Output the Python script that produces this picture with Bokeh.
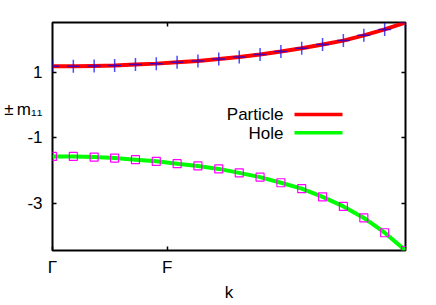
from bokeh.plotting import figure
from bokeh.models import (Range1d, FixedTicker, LinearAxis, Label, BoxAnnotation,
                          ColumnDataSource)
from bokeh.embed import file_html
from bokeh.resources import INLINE

# ---- data ----
k = [0.0, 0.059, 0.118, 0.176, 0.235, 0.294, 0.353, 0.412, 0.471,
     0.529, 0.588, 0.647, 0.706, 0.765, 0.824, 0.882, 0.941, 1.0]
particle = [1.18, 1.18, 1.19, 1.20, 1.23, 1.26, 1.30, 1.34, 1.40,
            1.46, 1.54, 1.63, 1.73, 1.84, 1.96, 2.12, 2.30, 2.51]
hole = [-1.56, -1.56, -1.58, -1.61, -1.66, -1.71, -1.78, -1.85, -1.94,
        -2.06, -2.19, -2.36, -2.54, -2.79, -3.08, -3.43, -3.88, -4.42]
x_ticks = [0.0, 0.325]
x_tick_labels = ["\u0393", "F"]
y_ticks = [1, -1, -3]
y_tick_labels = ["1", "-1", "-3"]
y_title = "\u00b1\u2009m\u2081\u2081"
y_title_pos = -0.12
x_title = "k"
legend_labels = ["Particle", "Hole"]

FONT = "Liberation Sans"

src = ColumnDataSource(dict(k=k, particle=particle, hole=hole))

p = figure(width=436, height=305, output_backend="svg", toolbar_location=None,
           x_range=Range1d(0, 1), y_range=Range1d(-4.42, 2.51),
           min_border_left=52, min_border_right=31, min_border_top=22,
           min_border_bottom=55)
p.grid.visible = False
p.outline_line_color = "black"
p.outline_line_width = 2
p.background_fill_color = "white"
p.border_fill_color = "white"


def style_axis(ax, show_labels):
    ax.axis_line_color = None
    ax.major_tick_in = 4
    ax.major_tick_out = 0
    ax.major_tick_line_color = "black"
    ax.major_tick_line_width = 1.5
    ax.minor_tick_line_color = None
    if not show_labels:
        ax.major_label_overrides = {t: "" for t in ax.ticker.ticks}
        ax.major_label_standoff = 0


# bottom axis: ticks, tick labels and title
xa = p.xaxis[0]
xa.ticker = FixedTicker(ticks=x_ticks)
xa.major_label_overrides = {t: s for t, s in zip(x_ticks, x_tick_labels)}
style_axis(xa, True)
xa.major_label_text_font = FONT
xa.major_label_text_font_size = "17px"
xa.major_label_text_color = "black"
xa.major_label_standoff = 7
xa.axis_label = x_title
xa.axis_label_text_font = FONT
xa.axis_label_text_font_size = "17px"
xa.axis_label_text_font_style = "normal"
xa.axis_label_text_color = "black"
xa.axis_label_standoff = 3

# left: inner axis draws the inward tick marks only
ya = p.yaxis[0]
ya.ticker = FixedTicker(ticks=y_ticks)
style_axis(ya, False)

# left: outer axis carries the tick labels and the (horizontal) title
lab_ticks = y_ticks + [y_title_pos]
lab_texts = y_tick_labels + [y_title]
la = LinearAxis(ticker=FixedTicker(ticks=lab_ticks))
la.axis_line_color = None
la.major_tick_line_color = None
la.minor_tick_line_color = None
la.major_tick_in = 0
la.major_tick_out = 0
la.major_label_overrides = {t: s for t, s in zip(lab_ticks, lab_texts)}
la.major_label_text_font = FONT
la.major_label_text_font_size = "17px"
la.major_label_text_color = "black"
la.major_label_standoff = 10
p.add_layout(la, "left")

# mirrored ticks
ta = LinearAxis(ticker=FixedTicker(ticks=x_ticks[1:]))
style_axis(ta, False)
p.add_layout(ta, "above")
ra = LinearAxis(ticker=FixedTicker(ticks=y_ticks))
style_axis(ra, False)
p.add_layout(ra, "right")

# curves
p.line("k", "particle", source=src, line_color="#ff0000", line_width=4)
p.line("k", "hole", source=src, line_color="#00ff00", line_width=4)
p.scatter("k", "particle", source=src, marker="cross", size=13,
          line_color="#0000ff", line_alpha=0.7, line_width=1.5)
p.scatter("k", "hole", source=src, marker="square", size=8,
          fill_color=None, line_color="#ff00ff", line_width=1.2)

# legend (gnuplot style: text then sample)
p.add_layout(Label(x=231, y=136, x_units="screen", y_units="screen",
                   text=legend_labels[0], text_align="right", text_baseline="middle",
                   text_font=FONT, text_font_size="17px", text_color="black"))
p.add_layout(Label(x=231, y=117.5, x_units="screen", y_units="screen",
                   text=legend_labels[1], text_align="right", text_baseline="middle",
                   text_font=FONT, text_font_size="17px", text_color="black"))
p.add_layout(BoxAnnotation(left=242, right=290, bottom=134.3, top=137.7,
                           left_units="screen", right_units="screen",
                           top_units="screen", bottom_units="screen",
                           fill_color="#ff0000", fill_alpha=1, line_color=None))
p.add_layout(BoxAnnotation(left=242, right=290, bottom=116, top=119.4,
                           left_units="screen", right_units="screen",
                           top_units="screen", bottom_units="screen",
                           fill_color="#00ff00", fill_alpha=1, line_color=None))

open("out.html", "w").write(file_html(p, INLINE))
